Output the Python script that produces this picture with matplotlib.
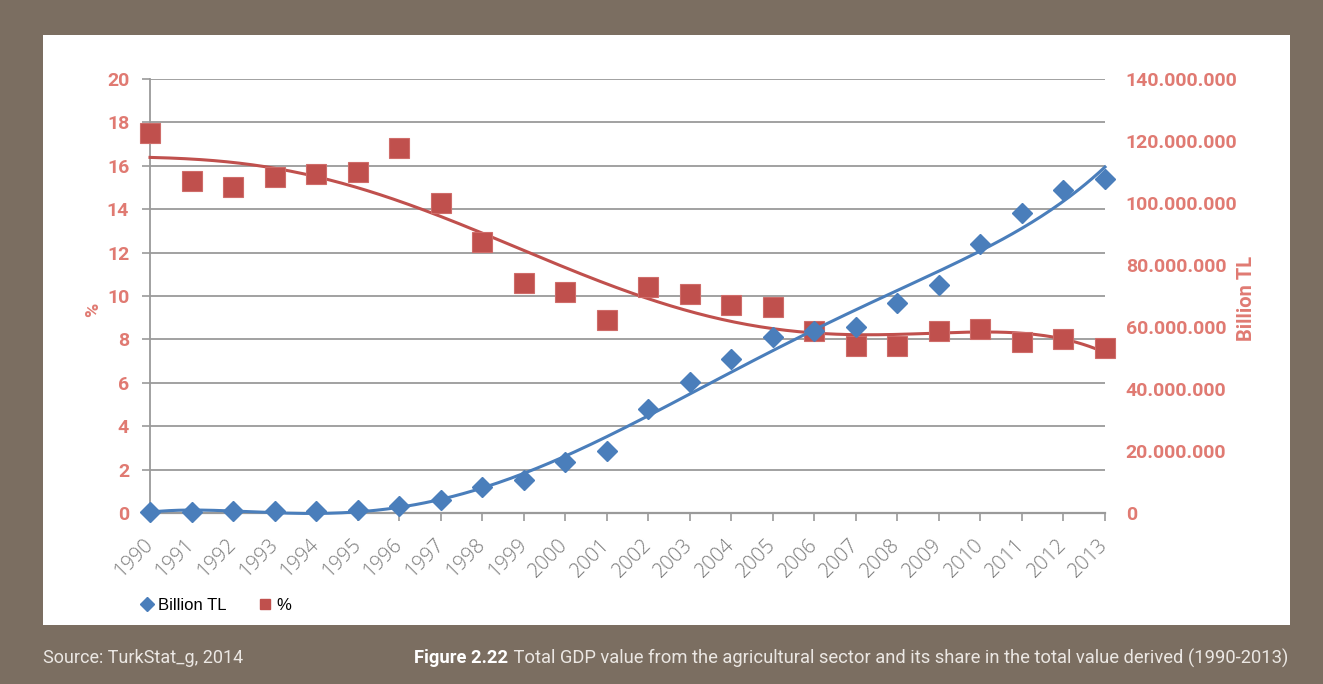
import numpy as np
import matplotlib
matplotlib.use("Agg")
import matplotlib.pyplot as plt
from matplotlib.lines import Line2D

years = list(range(1990, 2014))
share_pct = [17.5, 15.3, 15.0, 15.5, 15.6, 15.7, 16.8, 14.3, 12.5, 10.6, 10.2, 8.9,
             10.4, 10.1, 9.6, 9.5, 8.4, 7.7, 7.7, 8.4, 8.5, 7.9, 8.0, 7.6]
gdp_tl = [0.3e6, 0.4e6, 0.5e6, 0.5e6, 0.7e6, 1.0e6, 2.2e6, 4.3e6, 8.3e6, 10.6e6,
          16.3e6, 20.0e6, 33.6e6, 42.3e6, 49.7e6, 56.8e6, 58.7e6, 60.0e6, 67.7e6,
          73.5e6, 86.8e6, 96.8e6, 104.2e6, 107.7e6]
left_ticks = list(range(0, 21, 2))
right_ticks = list(range(0, 140000001, 20000000))

FRAME = "#7b6e61"
BLUE = "#4a7ebb"
RED = "#c0504d"
TICK_RED = "#e07a72"
GRID = "#9a9a9a"
CAPTION = "#ebe7e3"

fig = plt.figure(figsize=(13.23, 6.84), dpi=100, facecolor=FRAME)
W, H = 1323, 684

# white panel
panel = fig.add_axes([43 / W, 1 - 625 / H, (1290 - 43) / W, (625 - 35) / H])
panel.set_facecolor("white")
panel.set_xticks([]); panel.set_yticks([])
for s in panel.spines.values():
    s.set_visible(False)

x0, x1, ytop, ybot = 150, 1105, 79, 513
ax = fig.add_axes([x0 / W, 1 - ybot / H, (x1 - x0) / W, (ybot - ytop) / H])
ax.set_facecolor("none")
ax2 = ax.twinx()

x = np.arange(len(years))

# fifth-order polynomial trend lines
xs = np.linspace(0, len(years) - 1, 300)
red_fit = np.polyval(np.polyfit(x, share_pct, 5), xs)
blue_fit = np.polyval(np.polyfit(x, gdp_tl, 5), xs)

ax.plot(xs, red_fit, color=RED, lw=2.2, zorder=3, clip_on=False)
ax.plot(x, share_pct, ls="none", marker="s", ms=14, color=RED, mec="#cf6c69",
        mew=0.8, zorder=4, clip_on=False)
ax2.plot(xs, blue_fit, color=BLUE, lw=2.2, zorder=3, clip_on=False)
ax2.plot(x, gdp_tl, ls="none", marker="D", ms=10, color=BLUE, mec=BLUE, zorder=4,
         clip_on=False)

ax.set_xlim(0, len(years) - 1)
ax.set_ylim(0, 20)
ax2.set_ylim(0, 140000000)
ax.set_yticks(left_ticks)
ax2.set_yticks(right_ticks)
ax.yaxis.grid(True, color=GRID, lw=1.3)
ax.set_axisbelow(True)

ax.set_xticks(x)
ax.set_xticklabels([str(y) for y in years], rotation=45, ha="right", va="center",
                   rotation_mode="anchor", color="#7a7a7a", fontsize=14.5,
                   family="Open Sans", fontweight="light")
ax.tick_params(axis="x", length=6, color=GRID, width=1.2, pad=15)
ax.tick_params(axis="y", length=6, color=GRID, width=1.2, pad=9,
               labelcolor=TICK_RED, labelsize=14)
ax2.tick_params(axis="y", length=0, pad=15, labelcolor=TICK_RED, labelsize=14)
ax2.set_yticklabels([f"{v:,}".replace(",", ".") for v in right_ticks])
for lab in ax.get_yticklabels() + ax2.get_yticklabels():
    lab.set_fontweight("bold")
    lab.set_family("Roboto")

for a in (ax, ax2):
    for side in ("top", "right"):
        a.spines[side].set_visible(False)
ax2.spines["left"].set_visible(False)
ax2.spines["bottom"].set_visible(False)
ax.spines["left"].set_color(GRID)
ax.spines["left"].set_linewidth(1.3)
ax.spines["bottom"].set_color(GRID)
ax.spines["bottom"].set_linewidth(1.6)

fig.text(93 / W, 1 - 310 / H, "%", rotation=90, ha="center", va="center",
         color=TICK_RED, fontsize=14, fontweight="bold", family="Roboto")
fig.text(1247 / W, 1 - 298 / H, "Billion TL", rotation=90, ha="center", va="center",
         color=TICK_RED, fontsize=14.5, fontweight="bold", family="Roboto")

handles = [Line2D([], [], ls="none", marker="D", ms=7, color=BLUE, label="Billion TL"),
           Line2D([], [], ls="none", marker="s", ms=7, color=RED, label="%")]
fig.legend(handles=handles, loc="center left", bbox_to_anchor=(125 / W, 1 - 605 / H),
           ncol=2, frameon=False, handlelength=0.8, handletextpad=0.3,
           columnspacing=1.9, prop={"family": "Liberation Sans", "size": 12})

fig.text(43 / W, 1 - 658 / H, "Source: TurkStat_g, 2014", ha="left", va="center",
         color=CAPTION, fontsize=13, family="Roboto")
t = fig.text(1288 / W, 1 - 658 / H,
             " Total GDP value from the agricultural sector and its share in the total value derived (1990-2013)",
             ha="right", va="center", color=CAPTION, fontsize=13.2, family="Roboto")
fig.canvas.draw()
bb = t.get_window_extent()
fig.text(bb.x0 / W, 1 - 658 / H, "Figure 2.22", ha="right", va="center",
         color="#ffffff", fontsize=13.2, family="Roboto", fontweight="bold")

fig.savefig("out.png", dpi=100, facecolor=FRAME)
